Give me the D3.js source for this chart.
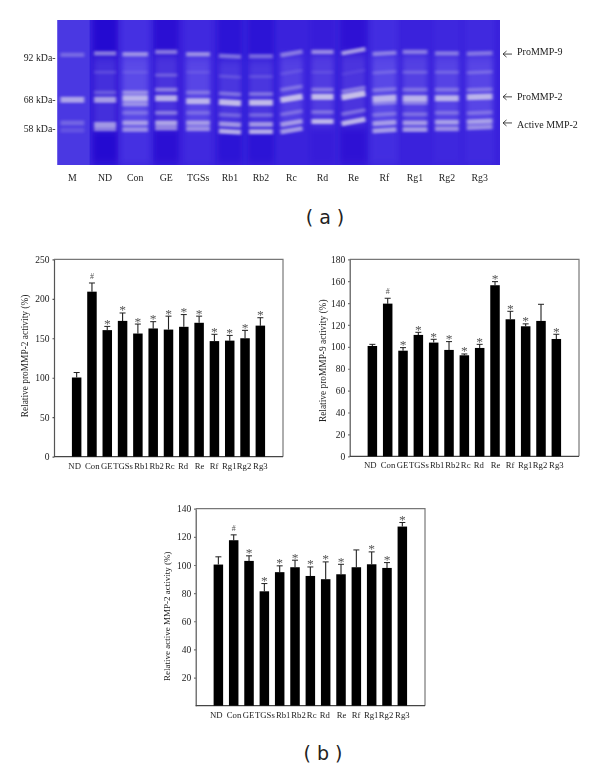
<!DOCTYPE html>
<html><head><meta charset="utf-8">
<script src="https://cdn.jsdelivr.net/npm/d3@7/dist/d3.min.js"></script>
<style>
html,body{margin:0;padding:0;background:#fff}
svg{display:block}
text{font-family:"Liberation Serif",serif;fill:#222}
</style></head><body><div id="chart"></div>
<script>
// ---- shared categories
const categories = ["ND","Con","GE","TGSs","Rb1","Rb2","Rc","Rd","Re","Rf","Rg1","Rg2","Rg3"];
// ---- panel (b): bar charts
const proMMP2Values = [100.3,209,160.3,172,156,162.4,161,164.5,169.6,146.4,147,150,166];
const proMMP2Upper  = [106.6,220,165,182,168,171,178,180,178,155,153.6,160,176];
const proMMP2Marks  = ["","#","*","*","*","*","*","*","*","*","*","*","*"];
const proMMP2Ticks  = [0,50,100,150,200,250];
const proMMP9Values = [100.8,139.5,96.5,110.9,103.9,97.2,92.3,99,156.3,125.2,118.8,123.7,107.2];
const proMMP9Upper  = [102.3,144.4,99.3,113.3,106.9,104.8,93.5,102.3,159.6,132.5,121,138.9,111.5];
const proMMP9Marks  = ["","#","*","*","*","*","*","*","*","*","*","","*"];
const proMMP9Ticks  = [0,20,40,60,80,100,120,140,160,180];
const activeValues  = [100.3,117.6,102.9,81.3,94.9,98.4,92.2,89.9,93.4,98.4,100.5,97.9,127.3];
const activeUpper   = [105.8,121.4,106.5,86.8,99.4,103.4,98.6,102.2,100.5,110.7,109.3,101.7,130.2];
const activeMarks   = ["","#","*","*","*","*","*","*","*","","*","*","*"];
const activeTicks   = [20,40,60,80,100,120,140];
// ---- panel (a): gel, positions in percent of gel width / height
const laneNames  = ["M","ND","Con","GE","TGSs","Rb1","Rb2","Rc","Rd","Re","Rf","Rg1","Rg2","Rg3"];
const laneCenter = [3.4,10.8,17.6,24.6,31.8,39,46,52.9,59.9,66.9,73.9,80.8,88,95.4];
const laneSpan   = [5.4,5,5.8,5,5.4,5,5.4,5,5,5.4,5.4,5.6,5.4,5.8];
const laneTilt   = [0,0,0,0,0,0.8,0,-2.5,0,-3,-1,0,0,-0.6];
const laneShade  = [0,-0.2,0.1,-0.16,0.05,-0.12,-0.12,0,-0.05,-0.14,0.08,0,0.03,0.06];
const band92Pos  = [24,23,23.6,22,23.6,25,25,23,22,21.5,23,22,23,23];
const band92Str  = [0.3,0.5,0.55,0.48,0.55,0.42,0.38,0.45,0.55,0.65,0.45,0.45,0.42,0.4];
const faintPos   = [0,36,36,38,36,39,39,36,36,36,36,36,36,36];
const faintStr   = [0,0.15,0.1,0.25,0.1,0.16,0.15,0.12,0.1,0.08,0.2,0.22,0.22,0.25];
const highPos    = [0,50,50,48,50,51,51,47,48,48,48,48,48,48];
const highStr    = [0,0.25,0.5,0.45,0.32,0.36,0.36,0.32,0.38,0.42,0.32,0.32,0.32,0.32];
const mainPos    = [55,55,54,54,56,57,57,54,53,52,54,54,54,53];
const mainStr    = [0.68,0.65,0.75,0.75,0.75,0.82,0.82,0.82,0.82,0.85,0.75,0.75,0.75,0.75];
const underPos   = [0,0,58,0,0,0,0,0,0,0,57,57,0,0];
const underStr   = [0,0,0.5,0,0,0,0,0,0,0,0.42,0.42,0,0];
const midPos     = [0,0,64,64,64,65.5,65.5,64,63.5,63.5,65,65,64,64];
const midStr     = [0,0,0.28,0.42,0.26,0.28,0.28,0.3,0.32,0.34,0.3,0.3,0.3,0.3];
const upperActPos= [71,72,71,71,71,72,72,71,70,70,71,71,70.5,70];
const upperActStr= [0.28,0.62,0.6,0.7,0.6,0.6,0.6,0.6,0.78,0.78,0.6,0.6,0.62,0.62];
const lowerActPos= [76,75,75.5,74.5,75,77,77,76,0,0,76,75.5,75,74];
const lowerActStr= [0.16,0.52,0.52,0.55,0.55,0.75,0.75,0.62,0,0,0.62,0.62,0.55,0.52];
const sizeMarkers   = ["92 kDa-","68 kDa-","58 kDa-"];
const sizeMarkerPos = [26,55,75];
const arrowLabels   = ["ProMMP-9","ProMMP-2","Active MMP-2"];
const arrowHeadPos  = [23.5,53,71];
const arrowLabelPos = [22,53,72.5];

const W=600,H=772;
const svg=d3.select("#chart").append("svg").attr("width",W).attr("height",H);
const defs=svg.append("defs");
defs.append("filter").attr("id","b1").attr("filterUnits","userSpaceOnUse").attr("x",0).attr("y",0).attr("width",W).attr("height",200)
  .append("feGaussianBlur").attr("stdDeviation","1.8 1.2");
defs.append("filter").attr("id","b2").attr("filterUnits","userSpaceOnUse").attr("x",0).attr("y",0).attr("width",W).attr("height",200)
  .append("feGaussianBlur").attr("stdDeviation","2.5 5");
defs.append("filter").attr("id","soft").attr("filterUnits","userSpaceOnUse").attr("x",0).attr("y",0).attr("width",W).attr("height",H)
  .append("feGaussianBlur").attr("stdDeviation","0.35");
const clip=defs.append("clipPath").attr("id","gelclip");

// ---- gel
const gx=d3.scaleLinear().domain([0,100]).range([57.3,500]);
const gy=d3.scaleLinear().domain([0,100]).range([20,165]);
const gelAttrs=s=>s.attr("x",gx(0)).attr("y",gy(0)).attr("width",gx(100)-gx(0)).attr("height",gy(100)-gy(0));
clip.append("rect").call(gelAttrs);
const gel=svg.append("g").attr("clip-path","url(#gelclip)");
gel.append("rect").call(gelAttrs).attr("fill","#3a22dc");
const lanes=laneNames.map((n,i)=>({n,i,c:laneCenter[i],s:laneSpan[i],t:laneTilt[i]}));
gel.append("g").attr("filter","url(#b2)").selectAll("rect").data(lanes).join("rect")
  .attr("x",d=>gx(d.c-d.s/2-0.3)).attr("width",d=>gx(d.s+0.6)-gx(0))
  .attr("y",gy(-10)).attr("height",gy(110)-gy(0))
  .attr("fill",d=>laneShade[d.i]<0?"#2000cc":"#5a48ee")
  .attr("opacity",d=>Math.abs(laneShade[d.i])*3.5);
gel.append("rect").attr("x",gx(0)).attr("y",gy(0)).attr("width",gx(7.3)-gx(0)).attr("height",gy(100)-gy(0)).attr("fill","#4a38e2");
gel.append("g").attr("filter","url(#b2)").selectAll("rect").data(lanes.slice(1)).join("rect")
  .attr("x",d=>gx(d.c-d.s/2)).attr("width",d=>gx(d.s)-gx(0))
  .attr("y",d=>gy(band92Pos[d.i]+2)).attr("height",d=>gy(upperActPos[d.i]+3)-gy(band92Pos[d.i]+2))
  .attr("fill","#8f86f4").attr("opacity",.3);
const bandLayer=gel.append("g").attr("filter","url(#b1)");
function drawBands(pos,str,th){
  bandLayer.append("g").selectAll("line").data(lanes.filter(d=>str[d.i]>0&&pos[d.i]>0)).join("line")
    .attr("x1",d=>gx(d.c-d.s/2)).attr("x2",d=>gx(d.c+d.s/2))
    .attr("y1",d=>gy(pos[d.i]-d.t/2)).attr("y2",d=>gy(pos[d.i]+d.t/2))
    .attr("stroke","#dcd8ec").attr("stroke-width",th).attr("opacity",d=>str[d.i]);
}
drawBands(faintPos,faintStr,3.5);
drawBands(midPos,midStr,4);
drawBands(band92Pos,band92Str,4.5);
drawBands(highPos,highStr,4);
drawBands(underPos,underStr,4.5);
drawBands(mainPos,mainStr,6);
drawBands(upperActPos,upperActStr,5);
drawBands(lowerActPos,lowerActStr,5);

const topTxt=svg.append("g").attr("filter","url(#soft)");
topTxt.selectAll("text.lane").data(lanes).join("text").attr("class","lane")
  .attr("x",d=>gx(d.c)).attr("y",181).attr("text-anchor","middle").attr("font-size",9.8).text(d=>d.n);
topTxt.selectAll("text.size").data(sizeMarkers).join("text").attr("class","size")
  .attr("x",55.5).attr("y",(d,i)=>gy(sizeMarkerPos[i])+3).attr("text-anchor","end").attr("font-size",9.8).text(d=>d);
const arrows=topTxt.selectAll("g.arrow").data(arrowLabels).join("g").attr("class","arrow");
arrows.append("path").attr("d",(d,i)=>{const y=gy(arrowHeadPos[i]);return `M512 ${y}H503M506.5 ${y-3}L503 ${y}L506.5 ${y+3}`;})
  .attr("fill","none").attr("stroke","#333").attr("stroke-width",.9);
arrows.append("text").attr("x",517).attr("y",(d,i)=>gy(arrowLabelPos[i])+3).attr("font-size",10).text(d=>d);

const caption=(t,x,y)=>svg.append("text").attr("x",x).attr("y",y).attr("text-anchor","middle")
  .attr("font-size",19).style("font-family","DejaVu Sans").text(t);
caption("( a )",325,224);
caption("( b )",323,760);

// ---- bar charts
const nudge=[-2,0.3,-0.5,0.5,3.5,3.5,1.3,-0.8,0.5,-0.3,-0.5,-1,0];
function barChart(o){
  const g=svg.append("g").attr("filter","url(#soft)");
  const y=d3.scaleLinear().domain(o.domain).range([o.bottom,o.top]);
  const x=d3.scaleBand().domain(categories).range([o.left+15,o.right-15]).paddingInner(0.38).paddingOuter(0.19);
  g.append("path").attr("d",`M${o.left} ${o.top}H${o.right}V${o.bottom}`).attr("fill","none").attr("stroke","#777").attr("stroke-width",1.2);
  const ya=g.append("g").attr("transform",`translate(${o.left},0)`)
    .call(d3.axisLeft(y).tickValues(o.ticks).tickSize(1.5).tickSizeOuter(0).tickPadding(3).tickFormat(d3.format("d")));
  ya.selectAll("path,line").attr("stroke","#555").attr("stroke-width",1.2);
  ya.selectAll("text").attr("font-size",9.5).style("font-family","Liberation Serif").attr("fill","#222");
  const xa=g.append("g").attr("transform",`translate(0,${o.bottom})`).call(d3.axisBottom(x).tickSize(0).tickPadding(6));
  xa.select("path").attr("d",`M${o.left} 0H${o.right}`).attr("stroke","#444").attr("stroke-width",1.3);
  xa.selectAll("text").attr("font-size",8.7).style("font-family","Liberation Serif").attr("fill","#222")
    .attr("dx",(d,i)=>nudge[i]);
  const mid=d=>x(d)+x.bandwidth()/2;
  g.selectAll("line.err").data(categories).join("line").attr("class","err")
    .attr("x1",mid).attr("x2",mid)
    .attr("y1",(d,i)=>y(o.values[i])).attr("y2",(d,i)=>y(o.upper[i])).attr("stroke","#222").attr("stroke-width",1.1);
  g.selectAll("line.cap").data(categories).join("line").attr("class","cap")
    .attr("x1",d=>mid(d)-3).attr("x2",d=>mid(d)+3)
    .attr("y1",(d,i)=>y(o.upper[i])).attr("y2",(d,i)=>y(o.upper[i])).attr("stroke","#222").attr("stroke-width",1);
  g.selectAll("rect.bar").data(categories).join("rect").attr("class","bar")
    .attr("x",d=>x(d)).attr("width",x.bandwidth())
    .attr("y",(d,i)=>y(o.values[i])).attr("height",(d,i)=>o.bottom-y(o.values[i])).attr("fill","#000");
  g.selectAll("text.mark").data(categories).join("text").attr("class","mark")
    .attr("x",mid)
    .attr("y",(d,i)=>y(o.upper[i])-(o.marks[i]==="#"?4:-1.5))
    .attr("text-anchor","middle").attr("font-size",(d,i)=>o.marks[i]==="#"?8:13.5).style("fill","#555")
    .text((d,i)=>o.marks[i]);
  g.append("text").attr("transform",`translate(${o.labelX},${(o.top+o.bottom)/2+o.labelDy}) rotate(-90)`)
    .attr("text-anchor","middle").attr("font-size",o.labelSize).text(o.label);
}
barChart({values:proMMP2Values,upper:proMMP2Upper,marks:proMMP2Marks,ticks:proMMP2Ticks,domain:[0,250],
  left:54,right:283,top:259.3,bottom:456.7,label:"Relative proMMP-2 activity (%)",labelX:28,labelDy:-2,labelSize:9.4});
barChart({values:proMMP9Values,upper:proMMP9Upper,marks:proMMP9Marks,ticks:proMMP9Ticks,domain:[0,180],
  left:349.7,right:579,top:259.3,bottom:456.3,label:"Relative proMMP-9 activity (%)",labelX:326,labelDy:3,labelSize:9.4});
barChart({values:activeValues,upper:activeUpper,marks:activeMarks,ticks:activeTicks,domain:[0,140],
  left:195.7,right:425,top:508.7,bottom:705.7,label:"Relative active MMP-2 activity (%)",labelX:170,labelDy:9,labelSize:9});
</script></body></html>
